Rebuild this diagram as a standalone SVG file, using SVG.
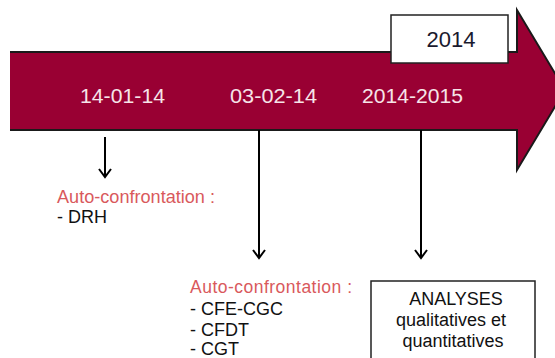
<svg xmlns="http://www.w3.org/2000/svg" width="555" height="358" viewBox="0 0 555 358">
<defs>
<style>
text{font-family:"Liberation Sans",Arial,sans-serif}
.date{fill:#f6e4e8;font-size:20.5px}
.red{fill:#d9595c;font-size:17.5px}
.blk{fill:#111;font-size:18px}
.box{fill:#fff;stroke:#222;stroke-width:1.5}
.conn{stroke:#000;stroke-width:2;fill:none;marker-end:url(#ah)}
</style>
<marker id="ah" markerUnits="userSpaceOnUse" markerWidth="14" markerHeight="14" viewBox="-10 -7 12 14" refX="0" refY="0" orient="auto">
<path d="M-8,-6 L0,0 L-8,6" fill="none" stroke="#000" stroke-width="2"/>
</marker>
</defs>
<rect width="555" height="358" fill="#fff"/>
<g id="timeline">
<path d="M10,52 H517 V10 L565,90 L517,170 V130 H10" fill="#990033" stroke="#1a1a1a" stroke-width="2"/>
<text class="date" x="80" y="103" textLength="85" lengthAdjust="spacingAndGlyphs">14-01-14</text>
<text class="date" x="230" y="103" textLength="87" lengthAdjust="spacingAndGlyphs">03-02-14</text>
<text class="date" x="362" y="103" textLength="101" lengthAdjust="spacingAndGlyphs">2014-2015</text>
</g>
<g id="year">
<rect class="box" x="391" y="15" width="117" height="48"/>
<text x="451" y="47" text-anchor="middle" font-size="22" fill="#1a1a2e">2014</text>
</g>
<g id="connectors">
<line class="conn" x1="105" y1="137" x2="105" y2="177"/>
<line class="conn" x1="259" y1="130" x2="259" y2="258"/>
<line class="conn" x1="421" y1="130" x2="421" y2="258"/>
</g>
<g id="drh">
<text class="red" x="57" y="203" textLength="158" lengthAdjust="spacingAndGlyphs">Auto-confrontation :</text>
<text class="blk" x="57" y="223">- DRH</text>
</g>
<g id="syndicats">
<text class="red" x="190" y="293" textLength="162" lengthAdjust="spacing">Auto-confrontation  :</text>
<text class="blk" x="190" y="315">- CFE-CGC</text>
<text class="blk" x="190" y="336">- CFDT</text>
<text class="blk" x="190" y="355">- CGT</text>
</g>
<g id="analyses">
<rect class="box" x="371" y="281" width="164" height="90"/>
<text class="blk" x="456" y="305" text-anchor="middle">ANALYSES</text>
<text class="blk" x="451" y="326" text-anchor="middle">qualitatives et</text>
<text class="blk" x="453" y="347" text-anchor="middle">quantitatives</text>
</g>
</svg>
